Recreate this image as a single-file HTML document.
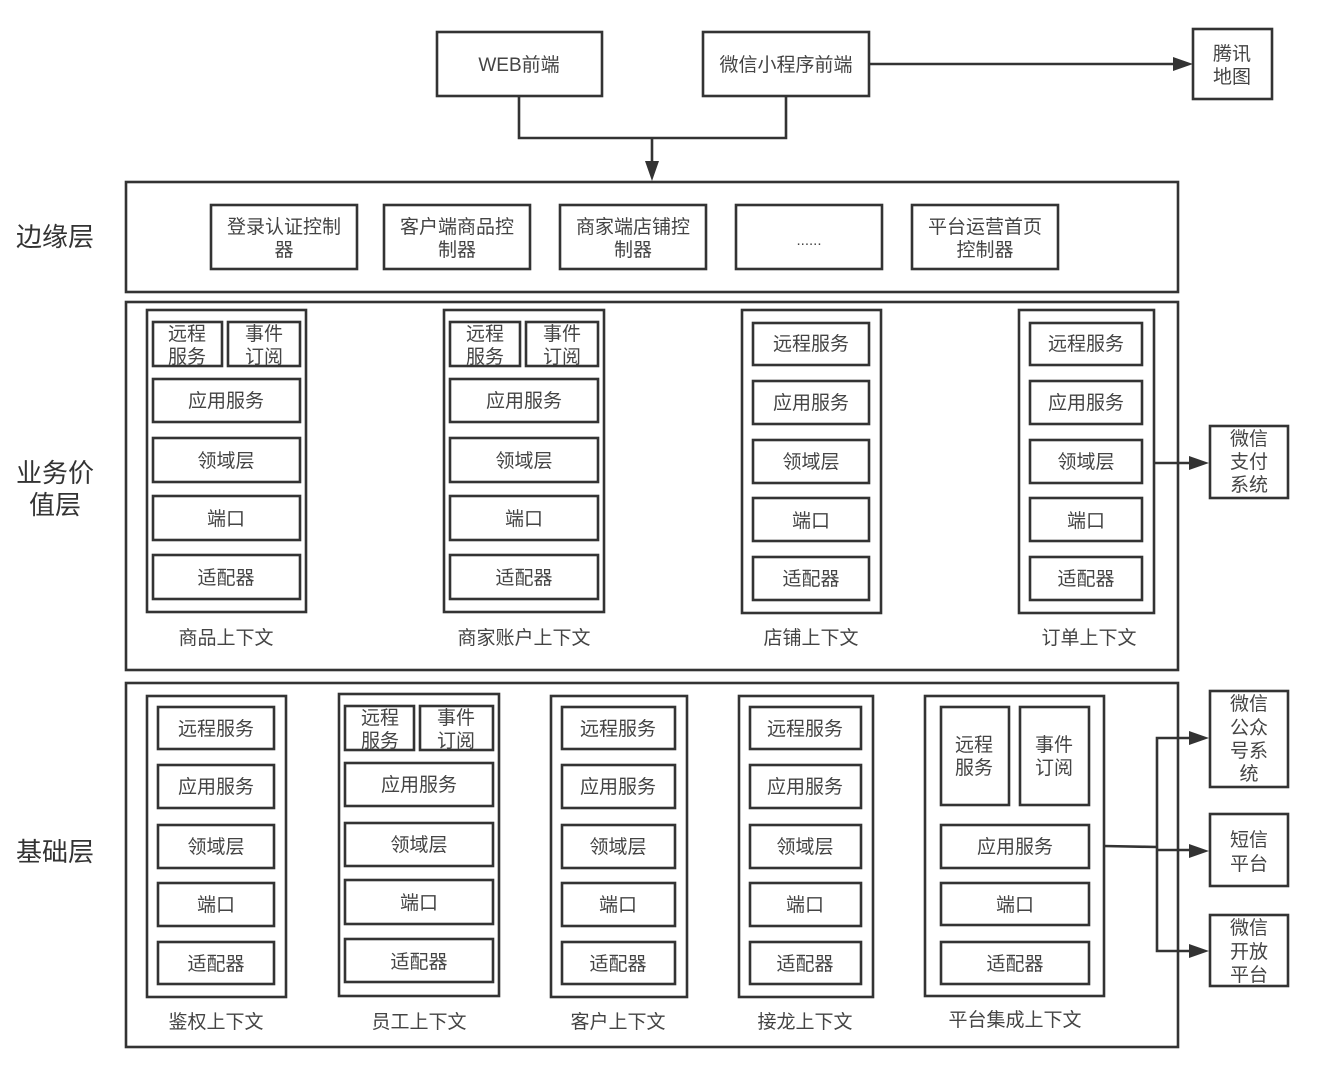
<!DOCTYPE html>
<html><head><meta charset="utf-8"><style>
html,body{margin:0;padding:0;background:#fff;width:1322px;height:1073px;overflow:hidden}
svg{display:block;filter:blur(.35px)}
rect{fill:none;stroke:#333;stroke-width:2.6}
path.l{fill:none;stroke:#333;stroke-width:2.6}
path.a{fill:#333;stroke:none}
text{font-family:"Liberation Sans","Noto Sans CJK SC",sans-serif;font-size:19px;fill:#444;text-anchor:middle}
text.b{font-size:26px;fill:#333}
</style></head><body>
<svg width="1322" height="1073" viewBox="0 0 1322 1073" xmlns="http://www.w3.org/2000/svg">
<!-- top -->
<rect x="437" y="32" width="165" height="64"/><text x="519" y="71">WEB前端</text>
<rect x="703" y="32" width="166" height="64"/><text x="786" y="71">微信小程序前端</text>
<rect x="1193" y="29" width="79" height="70"/><text x="1232" y="60">腾讯</text><text x="1232" y="83">地图</text>
<path class="l" d="M869 64H1175"/><path class="a" d="M1193 64L1173 57V71Z"/>
<path class="l" d="M519 96V138H786V96M652 138V163"/><path class="a" d="M652 181L645 161H659Z"/>
<!-- layers -->
<rect x="126" y="182" width="1052" height="110"/>
<rect x="126" y="302" width="1052" height="368"/>
<rect x="126" y="683" width="1052" height="364"/>
<text class="b" x="55" y="246">边缘层</text>
<text class="b" x="55" y="482">业务价</text><text class="b" x="55" y="514">值层</text>
<text class="b" x="55" y="861">基础层</text>
<!-- edge -->
<rect x="211" y="205" width="146" height="64"/><text x="284" y="233">登录认证控制</text><text x="284" y="256">器</text>
<rect x="384" y="205" width="146" height="64"/><text x="457" y="233">客户端商品控</text><text x="457" y="256">制器</text>
<rect x="560" y="205" width="146" height="64"/><text x="633" y="233">商家端店铺控</text><text x="633" y="256">制器</text>
<rect x="736" y="205" width="146" height="64"/><text x="809" y="245" style="font-size:15px">......</text>
<rect x="912" y="205" width="146" height="64"/><text x="985" y="233">平台运营首页</text><text x="985" y="256">控制器</text>
<!-- biz 1 -->
<rect x="147" y="310" width="159" height="302"/>
<rect x="153" y="322" width="69" height="44"/><text x="187" y="340">远程</text><text x="187" y="363">服务</text>
<rect x="228" y="322" width="72" height="44"/><text x="264" y="340">事件</text><text x="264" y="363">订阅</text>
<rect x="153" y="379" width="147" height="43"/><text x="226" y="407">应用服务</text>
<rect x="153" y="438" width="147" height="44"/><text x="226" y="467">领域层</text>
<rect x="153" y="496" width="147" height="44"/><text x="226" y="525">端口</text>
<rect x="153" y="555" width="147" height="44"/><text x="226" y="584">适配器</text>
<text x="226" y="644">商品上下文</text>
<!-- biz 2 -->
<rect x="444" y="310" width="160" height="302"/>
<rect x="450" y="322" width="70" height="44"/><text x="485" y="340">远程</text><text x="485" y="363">服务</text>
<rect x="526" y="322" width="72" height="44"/><text x="562" y="340">事件</text><text x="562" y="363">订阅</text>
<rect x="450" y="379" width="148" height="43"/><text x="524" y="407">应用服务</text>
<rect x="450" y="438" width="148" height="44"/><text x="524" y="467">领域层</text>
<rect x="450" y="496" width="148" height="44"/><text x="524" y="525">端口</text>
<rect x="450" y="555" width="148" height="44"/><text x="524" y="584">适配器</text>
<text x="524" y="644">商家账户上下文</text>
<!-- biz 3 -->
<rect x="742" y="310" width="139" height="303"/>
<rect x="753" y="323" width="116" height="42"/><text x="811" y="350">远程服务</text>
<rect x="753" y="381" width="116" height="43"/><text x="811" y="409">应用服务</text>
<rect x="753" y="440" width="116" height="43"/><text x="811" y="468">领域层</text>
<rect x="753" y="498" width="116" height="43"/><text x="811" y="527">端口</text>
<rect x="753" y="557" width="116" height="43"/><text x="811" y="585">适配器</text>
<text x="811" y="644">店铺上下文</text>
<!-- biz 4 -->
<rect x="1019" y="310" width="135" height="303"/>
<rect x="1030" y="323" width="112" height="42"/><text x="1086" y="350">远程服务</text>
<rect x="1030" y="381" width="112" height="43"/><text x="1086" y="409">应用服务</text>
<rect x="1030" y="440" width="112" height="43"/><text x="1086" y="468">领域层</text>
<rect x="1030" y="498" width="112" height="43"/><text x="1086" y="527">端口</text>
<rect x="1030" y="557" width="112" height="43"/><text x="1086" y="585">适配器</text>
<text x="1089" y="644">订单上下文</text>
<!-- pay -->
<path class="l" d="M1154 463H1190"/><path class="a" d="M1209 463L1189 456V470Z"/>
<rect x="1210" y="426" width="78" height="72"/><text x="1249" y="445">微信</text><text x="1249" y="468">支付</text><text x="1249" y="491">系统</text>
<!-- base 1 -->
<rect x="147" y="696" width="139" height="301"/>
<rect x="158" y="707" width="116" height="42"/><text x="216" y="735">远程服务</text>
<rect x="158" y="765" width="116" height="43"/><text x="216" y="793">应用服务</text>
<rect x="158" y="825" width="116" height="43"/><text x="216" y="853">领域层</text>
<rect x="158" y="883" width="116" height="43"/><text x="216" y="911">端口</text>
<rect x="158" y="942" width="116" height="42"/><text x="216" y="970">适配器</text>
<text x="216" y="1028">鉴权上下文</text>
<!-- base 2 -->
<rect x="339" y="694" width="160" height="302"/>
<rect x="345" y="706" width="69" height="44"/><text x="380" y="724">远程</text><text x="380" y="747">服务</text>
<rect x="420" y="706" width="73" height="44"/><text x="456" y="724">事件</text><text x="456" y="747">订阅</text>
<rect x="345" y="763" width="148" height="43"/><text x="419" y="791">应用服务</text>
<rect x="345" y="823" width="148" height="43"/><text x="419" y="851">领域层</text>
<rect x="345" y="880" width="148" height="44"/><text x="419" y="909">端口</text>
<rect x="345" y="939" width="148" height="43"/><text x="419" y="968">适配器</text>
<text x="419" y="1028">员工上下文</text>
<!-- base 3 -->
<rect x="551" y="696" width="136" height="301"/>
<rect x="562" y="707" width="113" height="42"/><text x="618" y="735">远程服务</text>
<rect x="562" y="765" width="113" height="43"/><text x="618" y="793">应用服务</text>
<rect x="562" y="825" width="113" height="43"/><text x="618" y="853">领域层</text>
<rect x="562" y="883" width="113" height="43"/><text x="618" y="911">端口</text>
<rect x="562" y="942" width="113" height="42"/><text x="618" y="970">适配器</text>
<text x="618" y="1028">客户上下文</text>
<!-- base 4 -->
<rect x="739" y="696" width="134" height="301"/>
<rect x="750" y="707" width="111" height="42"/><text x="805" y="735">远程服务</text>
<rect x="750" y="765" width="111" height="43"/><text x="805" y="793">应用服务</text>
<rect x="750" y="825" width="111" height="43"/><text x="805" y="853">领域层</text>
<rect x="750" y="883" width="111" height="43"/><text x="805" y="911">端口</text>
<rect x="750" y="942" width="111" height="42"/><text x="805" y="970">适配器</text>
<text x="805" y="1028">接龙上下文</text>
<!-- base 5 -->
<rect x="925" y="696" width="179" height="300"/>
<rect x="941" y="707" width="68" height="98"/><text x="974" y="751">远程</text><text x="974" y="774">服务</text>
<rect x="1020" y="707" width="69" height="98"/><text x="1054" y="751">事件</text><text x="1054" y="774">订阅</text>
<rect x="941" y="825" width="148" height="43"/><text x="1015" y="853">应用服务</text>
<rect x="941" y="883" width="148" height="42"/><text x="1015" y="911">端口</text>
<rect x="941" y="942" width="148" height="42"/><text x="1015" y="970">适配器</text>
<text x="1015" y="1026">平台集成上下文</text>
<!-- right -->
<path class="l" d="M1104 846L1157 847M1157 850H1190M1190 738H1157V951H1190"/>
<path class="a" d="M1209 738L1189 731V745Z"/><path class="a" d="M1209 851L1189 844V858Z"/><path class="a" d="M1209 951L1189 944V958Z"/>
<rect x="1210" y="691" width="78" height="96"/><text x="1249" y="710">微信</text><text x="1249" y="734">公众</text><text x="1249" y="757">号系</text><text x="1249" y="780">统</text>
<rect x="1210" y="814" width="78" height="72"/><text x="1249" y="846">短信</text><text x="1249" y="870">平台</text>
<rect x="1210" y="915" width="78" height="71"/><text x="1249" y="934">微信</text><text x="1249" y="958">开放</text><text x="1249" y="981">平台</text>
</svg>
</body></html>
